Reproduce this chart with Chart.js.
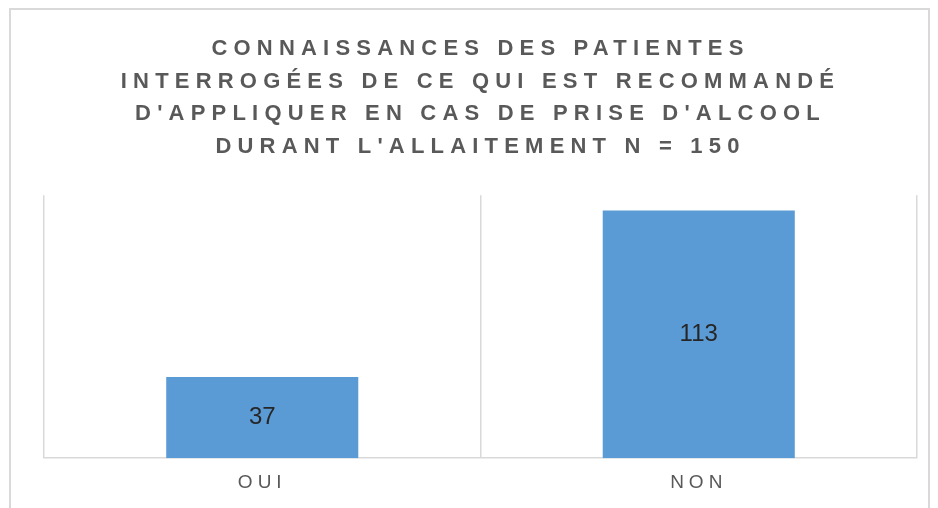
<!DOCTYPE html>
<html>
<head>
<meta charset="utf-8">
<script src="https://cdn.jsdelivr.net/npm/chart.js@4/dist/chart.umd.min.js"></script>
<style>
  body { margin: 0; background: #fff; }
  #wrap { position: relative; width: 938px; height: 508px; overflow: hidden; }
  #frame { position: absolute; left: 9px; top: 8px; width: 917px; height: 520px; border: 2px solid #d9d9d9; pointer-events: none; }
</style>
</head>
<body>
<div id="wrap">
  <canvas id="bar-chart" width="938" height="508"></canvas>
  <div id="frame"></div>
</div>
<script>
const categories = ["OUI", "NON"];
const counts = [37, 113];
const titleLines = [
    "CONNAISSANCES DES PATIENTES",
    "INTERROGÉES DE CE QUI EST RECOMMANDÉ",
    "D'APPLIQUER EN CAS DE PRISE D'ALCOOL",
    "DURANT L'ALLAITEMENT N = 150"
];

// title 6.2px spacing, values none, tick labels (z:1, drawn last) 5px
const spacing = {
    id: "spacing",
    beforeDraw: (chart) => { chart.ctx.letterSpacing = "6.2px"; },
    afterDatasetsDraw: (chart) => {
        const ctx = chart.ctx;
        ctx.save();
        ctx.letterSpacing = "0px";
        ctx.font = "24px 'Liberation Sans', Arial, sans-serif";
        ctx.fillStyle = "#262626";
        ctx.textAlign = "center";
        ctx.textBaseline = "middle";
        chart.getDatasetMeta(0).data.forEach((bar, i) => {
            ctx.fillText(counts[i], bar.x, (bar.y + bar.base) / 2);
        });
        ctx.restore();
        ctx.letterSpacing = "5px";
    }
};

const ctx = document.getElementById("bar-chart");

let chartGraph = new Chart(ctx, {
    type: "bar",
    data: {
        labels: categories,
        datasets: [{
            data: counts,
            backgroundColor: "#5B9BD5",
            borderWidth: 0,
            barPercentage: 0.44,
            categoryPercentage: 1,
        }]
    },
    options: {
        responsive: false,
        animation: false,
        layout: { padding: { left: 44, right: 21, top: 0, bottom: 0 } },
        plugins: {
            legend: { display: false },
            tooltip: { enabled: false },
            title: {
                display: true,
                text: titleLines,
                color: "#595959",
                font: { family: "'Liberation Sans', Arial, sans-serif", size: 22, weight: "bold", lineHeight: 1.48 },
                padding: { top: 33, bottom: 32 },
            },
        },
        scales: {
            x: {
                offset: true,
                grid: { display: true, offset: true, color: "#d9d9d9", lineWidth: 1.5, drawTicks: false },
                border: { display: true, color: "#d9d9d9", width: 1.5 },
                ticks: {
                    z: 1,
                    color: "#595959",
                    padding: 13.5,
                    font: { family: "'Liberation Sans', Arial, sans-serif", size: 19 },
                },
            },
            y: {
                display: false,
                min: 0,
                max: 120,
            },
        },
    },
    plugins: [spacing],
});
</script>
</body>
</html>
